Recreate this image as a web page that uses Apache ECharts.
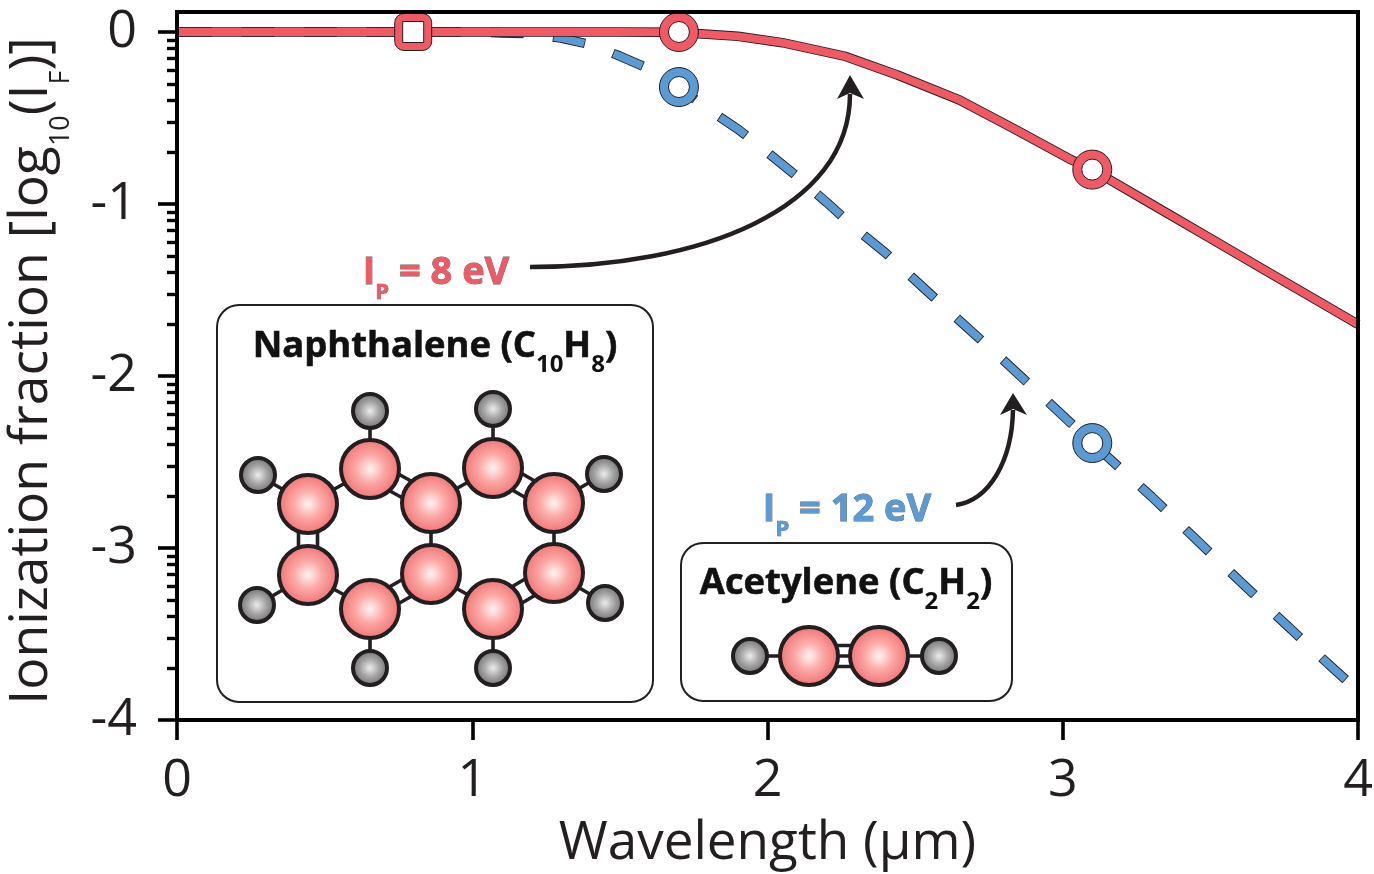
<!DOCTYPE html>
<html><head><meta charset="utf-8">
<style>html,body{margin:0;padding:0;background:#fff}#c{width:1374px;height:874px}</style>
<script src="https://cdn.jsdelivr.net/npm/echarts@6/dist/echarts.min.js"></script>
</head><body><div id="c"></div>
<script>
const xTicks = [0, 1, 2, 3, 4];
const yTicks = [0, -1, -2, -3, -4];
const yMinorTicks = [
 -0.046,-0.097,-0.155,-0.222,-0.301,-0.398,-0.523,-0.699,
 -1.046,-1.097,-1.155,-1.222,-1.301,-1.398,-1.523,-1.699,
 -2.046,-2.097,-2.155,-2.222,-2.301,-2.398,-2.523,-2.699,
 -3.046,-3.097,-3.155,-3.222,-3.301,-3.398,-3.523,-3.699];
const redX = [0, 0.8, 1.5, 1.7, 1.9, 2.05, 2.26, 2.44, 2.65, 2.83, 3.03, 3.1, 3.3, 3.5, 3.7, 3.9, 4.0];
const redY = [0, 0, 0, -0.002, -0.025, -0.062, -0.14, -0.25, -0.395, -0.558, -0.744, -0.80, -1.0, -1.2, -1.40, -1.60, -1.70];
const blueX = [0, 1.0, 1.1, 1.2, 1.3, 1.4, 1.5, 1.6, 1.7, 1.8, 1.9, 2.0, 2.1, 2.2, 2.3, 2.4, 2.6, 2.8, 3.0, 3.1, 3.3, 3.5, 3.7, 3.9, 4.0];
const blueY = [0, 0, -0.005, -0.01, -0.035, -0.073, -0.14, -0.215, -0.32, -0.45, -0.565, -0.70, -0.84, -0.99, -1.145, -1.285, -1.6, -1.91, -2.23, -2.39, -2.70, -3.03, -3.355, -3.675, -3.83];
const redCircles = [[1.7, 0], [3.1, -0.80]];
const redSquare = [[0.8, 0]];
const blueCircles = [[1.7, -0.32], [3.1, -2.39]];

const DARK = '#231f20', RED = '#f15a64', BLUE = '#5a9bd5';
const FONT = '"Open Sans","Noto Sans",sans-serif';
const zip = (a, b) => a.map((v, i) => [v, b[i]]);

function carbon(x, y){ return {type:'circle', z:21, shape:{cx:x,cy:y,r:29}, style:{stroke:DARK,lineWidth:4,
  fill:{type:'radial',x:0.5,y:0.5,r:0.5,colorStops:[{offset:0,color:'#fff4f2'},{offset:0.45,color:'#fba9a6'},{offset:1,color:'#f16f70'}]}}}; }
function hydrogen(x, y){ return {type:'circle', z:21, shape:{cx:x,cy:y,r:17}, style:{stroke:DARK,lineWidth:4,
  fill:{type:'radial',x:0.5,y:0.5,r:0.5,colorStops:[{offset:0,color:'#ececec'},{offset:0.5,color:'#a3a3a4'},{offset:1,color:'#6a6a6c'}]}}}; }
function bond(a, b, n){
  const out=[]; const dx=b[0]-a[0], dy=b[1]-a[1], L=Math.hypot(dx,dy), nx=-dy/L, ny=dx/L;
  const offs = n===1?[0]:n===2?[-9.5,9.5]:[-10.5,0,10.5];
  offs.forEach(o=>out.push({type:'line',z:20,shape:{x1:a[0]+nx*o,y1:a[1]+ny*o,x2:b[0]+nx*o,y2:b[1]+ny*o},style:{stroke:DARK,lineWidth:3.6}}));
  return out;
}
const nC = [[308,504],[370,469],[431,503],[493,468],[554,503],[308,575],[431,574],[554,573],[370,609],[493,609]];
const nH = [[258,475,0],[370,411,1],[493,409,3],[604,474,4],[257,605,5],[370,668,8],[493,668,9],[605,603,7]];
const nBonds = [[0,1,1],[1,2,2],[2,3,1],[3,4,2],[0,5,2],[2,6,1],[4,7,1],[5,8,1],[6,8,2],[6,9,1],[7,9,2]];
const aC = [[809,656],[879,656]], aH = [[750,656],[939,656]];

function box(x,y,w,h){ return {type:'rect',z:19,shape:{x,y,width:w,height:h,r:22},style:{fill:'#fff',stroke:DARK,lineWidth:2}}; }
function label(x,y,text,rich,extra){ return Object.assign({type:'text',z:25,x,y,style:{text,rich,align:'center',verticalAlign:'middle',font:'bold 34px '+FONT}},extra||{}); }
function titleRich(){ return {b:{fontFamily:FONT,fontWeight:'bold',fontSize:36.4,fill:'#111',stroke:'#111',lineWidth:0.6,lineHeight:60,verticalAlign:'middle'},
                              s:{fontFamily:FONT,fontWeight:'bold',fontSize:24,fill:'#111',verticalAlign:'bottom'}}; }
function ipRich(c){ return {b:{fontFamily:FONT,fontWeight:'bold',fontSize:38,fill:c,stroke:'#666',lineWidth:0.8,lineHeight:62,verticalAlign:'middle'},
                            s:{fontFamily:FONT,fontWeight:'bold',fontSize:22,fill:c,stroke:'#666',lineWidth:0.7,verticalAlign:'bottom'}}; }
function arrow(p, tip, l, r, n){
  return [{type:'bezierCurve',z:24,shape:{x1:p[0],y1:p[1],cpx1:p[2],cpy1:p[3],cpx2:p[4],cpy2:p[5],x2:p[6],y2:p[7]},style:{fill:'none',stroke:DARK,lineWidth:4.5}},
          {type:'polygon',z:24,shape:{points:[tip,l,n,r]},style:{fill:DARK}}];
}

const graphics = [
  box(217,305,436,397), box(681,543,331,158),
  label(435,347,'{b|Naphthalene (C}{s|10}{b|H}{s|8}{b|)}',titleRich()),
  label(846,584,'{b|Acetylene (C}{s|2}{b|H}{s|2}{b|)}',titleRich()),
  label(436,273,'{b|I}{s|P}{b| = 8 eV}',ipRich(RED)),
  label(847,510,'{b|I}{s|P}{b| = 12 eV}',ipRich(BLUE)),
  ...arrow([530,267,700,267,850,210,850,94],[850,75],[837,99],[864,99],[850,93]),
  ...arrow([956,505,990,500,1012,460,1013,410],[1013,393],[1000,415],[1027,415],[1013,409])
];
nBonds.forEach(b=>graphics.push(...bond(nC[b[0]],nC[b[1]],b[2])));
nH.forEach(h=>graphics.push(...bond([h[0],h[1]],nC[h[2]],1)));
nC.forEach(c=>graphics.push(carbon(c[0],c[1])));
nH.forEach(h=>graphics.push(hydrogen(h[0],h[1])));
graphics.push(...bond(aC[0],aC[1],3), ...bond(aH[0],aC[0],1), ...bond(aH[1],aC[1],1));
aC.forEach(c=>graphics.push(carbon(c[0],c[1])));
aH.forEach(c=>graphics.push(hydrogen(c[0],c[1])));

const yMin=-4, yMax=0.1163;
const spine={show:true,onZero:false,lineStyle:{color:'#000',width:4,cap:'square'}};
const option={
  animation:false, backgroundColor:'#fff',
  textStyle:{fontFamily:FONT},
  grid:{left:177,right:16,top:12,bottom:154,containLabel:false,outerBoundsMode:'none'},
  graphic:graphics,
  xAxis:[
   {type:'value',min:0,max:4,interval:1,z:10,position:'bottom',axisLine:spine,
    axisTick:{show:true,length:20,lineStyle:{color:'#000',width:3.6},customValues:xTicks},
    axisLabel:{fontFamily:FONT,fontSize:52,color:DARK,margin:35,customValues:xTicks,formatter:v=>String(v),hideOverlap:false,showMinLabel:true,showMaxLabel:true},
    splitLine:{show:false},
    name:'Wavelength (µm)',nameLocation:'middle',nameGap:97,nameTextStyle:{fontFamily:FONT,fontSize:53,color:DARK}},
   {type:'value',min:0,max:4,position:'top',z:10,axisLine:spine,axisTick:{show:false},axisLabel:{show:false},splitLine:{show:false}}
  ],
  yAxis:[
   {type:'value',min:yMin,max:yMax,z:10,position:'left',axisLine:spine,
    axisTick:{show:true,length:19,lineStyle:{color:'#000',width:3.6},customValues:yTicks},
    axisLabel:{fontFamily:FONT,fontSize:52,color:DARK,margin:40,customValues:yTicks,formatter:v=>String(v),showMinLabel:true,showMaxLabel:true},
    splitLine:{show:false},
    name:'{a|Ionization fraction [log}{s|10}{a|(I}{s|F}{a|)]}',nameLocation:'middle',nameGap:102,nameRotate:90,
    nameTextStyle:{padding:[0,10,0,0],rich:{a:{fontFamily:FONT,fontSize:53.5,color:DARK,lineHeight:86,verticalAlign:'middle'},
                         s:{fontFamily:FONT,fontSize:27,color:DARK,verticalAlign:'bottom'}}}},
   {type:'value',min:yMin,max:yMax,z:10,position:'left',axisLine:{show:false},
    axisTick:{show:true,length:10,lineStyle:{color:'#000',width:3.4},customValues:yMinorTicks},
    axisLabel:{show:false},splitLine:{show:false}},
   {type:'value',min:yMin,max:yMax,z:10,position:'right',axisLine:spine,axisTick:{show:false},axisLabel:{show:false},splitLine:{show:false}}
  ],
  series:[
   {type:'line',data:zip(blueX,blueY),z:2,showSymbol:false,smooth:false,lineStyle:{color:DARK,width:9.6,type:[32.6,29.7],dashOffset:-2.5,cap:'butt'}},
   {type:'line',data:zip(blueX,blueY),z:3,showSymbol:false,smooth:false,lineStyle:{color:BLUE,width:7.8,type:[31,31.3],dashOffset:-3.3,cap:'butt'}},
   {type:'line',data:zip(redX,redY),z:4,showSymbol:false,smooth:false,lineStyle:{color:DARK,width:9.6}},
   {type:'line',data:zip(redX,redY),z:5,showSymbol:false,smooth:false,lineStyle:{color:RED,width:7.8}},
   {type:'scatter',data:blueCircles,z:6,clip:false,symbol:'circle',symbolSize:39,itemStyle:{color:BLUE,borderColor:DARK,borderWidth:1,opacity:1}},
   {type:'scatter',data:blueCircles,z:7,clip:false,symbol:'circle',symbolSize:21,itemStyle:{color:'#fff',borderColor:DARK,borderWidth:1,opacity:1}},
   {type:'scatter',data:redCircles,z:6,clip:false,symbol:'circle',symbolSize:39,itemStyle:{color:RED,borderColor:DARK,borderWidth:1,opacity:1}},
   {type:'scatter',data:redCircles,z:7,clip:false,symbol:'circle',symbolSize:21,itemStyle:{color:'#fff',borderColor:DARK,borderWidth:1,opacity:1}},
   {type:'scatter',data:redSquare,z:6,clip:false,symbol:'roundRect',symbolSize:37,itemStyle:{color:RED,borderColor:DARK,borderWidth:1,opacity:1}},
   {type:'scatter',data:redSquare,z:7,clip:false,symbol:'rect',symbolSize:21,itemStyle:{color:'#fff',borderColor:DARK,borderWidth:1,opacity:1}}
  ]
};
echarts.init(document.getElementById('c'),null,{renderer:'canvas'}).setOption(option);
</script></body></html>
